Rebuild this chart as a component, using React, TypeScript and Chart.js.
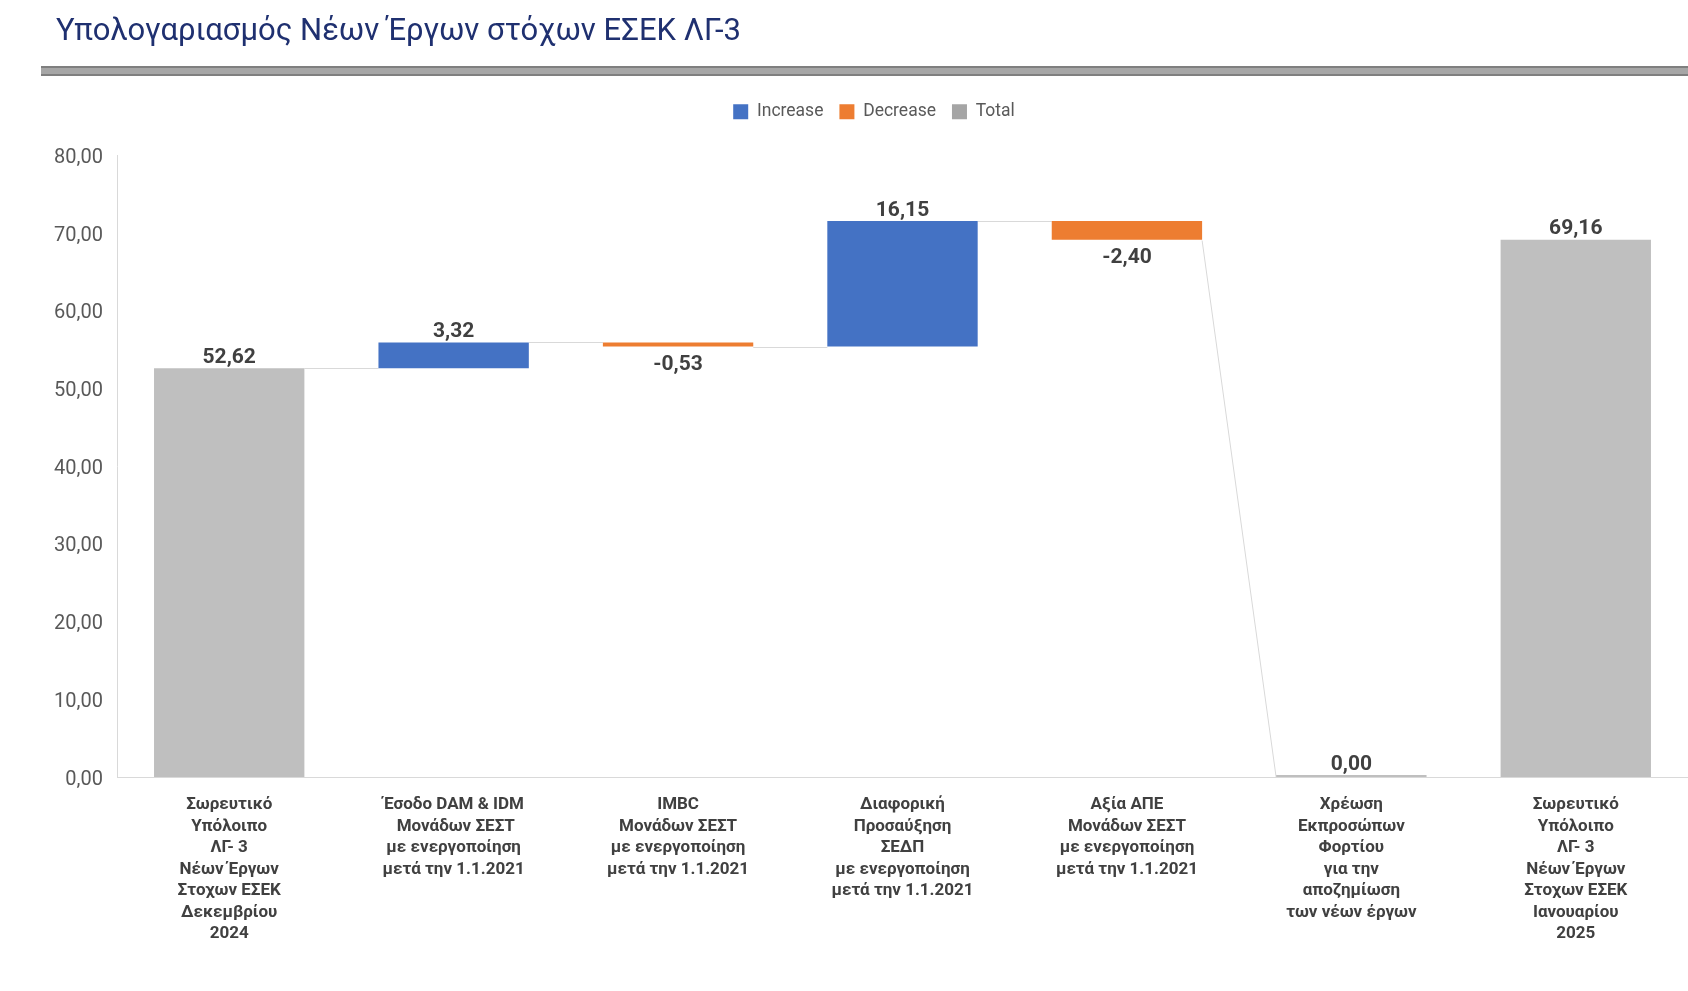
import React, { useEffect, useRef } from "react";
import { Chart, registerables } from "chart.js";

Chart.register(...registerables);

// Category captions (one entry per line of the caption)
const categoryLabels: string[][] = [
  ["Σωρευτικό", "Υπόλοιπο", "ΛΓ- 3", "Νέων Έργων", "Στοχων ΕΣΕΚ", "Δεκεμβρίου", "2024"],
  ["Έσοδο DAM & IDM", " Μονάδων ΣΕΣΤ", "με ενεργοποίηση", "μετά την 1.1.2021"],
  ["IMBC", "Μονάδων ΣΕΣΤ", "με ενεργοποίηση", "μετά την 1.1.2021"],
  ["Διαφορική", "Προσαύξηση", "ΣΕΔΠ", "με ενεργοποίηση", "μετά την 1.1.2021"],
  ["Αξία ΑΠΕ", "Μονάδων ΣΕΣΤ", "με ενεργοποίηση", "μετά την 1.1.2021"],
  ["Χρέωση", "Εκπροσώπων", "Φορτίου", "για την", "αποζημίωση", "των νέων έργων"],
  ["Σωρευτικό", "Υπόλοιπο", "ΛΓ- 3", "Νέων Έργων", "Στοχων ΕΣΕΚ", "Ιανουαρίου", "2025"],
];

// Step values of the waterfall and the kind of each step
const stepValues: number[] = [52.62, 3.32, -0.53, 16.15, -2.4, 0.0, 69.16];
const stepKinds: string[] = ["total", "increase", "decrease", "increase", "decrease", "total", "total"];

// Series
const seriesKeys: string[] = ["increase", "decrease", "total"];
const seriesNames: string[] = ["Increase", "Decrease", "Total"];
const seriesColors: string[] = ["#4472C4", "#ED7D31", "#BFBFBF"];
const legendSwatchColors: string[] = ["#4472C4", "#ED7D31", "#A5A5A5"];

// Value axis
const yMin = 0;
const yMax = 80;
const yStep = 10;

const TITLE = "Υπολογαριασμός Νέων Έργων στόχων ΕΣΕΚ ΛΓ-3";
const FONT = "Roboto, 'Open Sans', 'DejaVu Sans', sans-serif";

const fmt = (v: number) => v.toFixed(2).replace(".", ",");

// Floating [start, end] ranges built from the steps
function buildRanges(): [number, number][] {
  let cum = 0;
  return stepValues.map((v, i) => {
    if (stepKinds[i] === "total") {
      cum = v;
      return [0, v] as [number, number];
    }
    const start = cum;
    cum = +(cum + v).toFixed(2);
    return [start, cum] as [number, number];
  });
}

export default function App() {
  const canvasRef = useRef<HTMLCanvasElement | null>(null);

  useEffect(() => {
    document.body.style.margin = "0";
    document.body.style.overflow = "hidden";
    const canvas = canvasRef.current;
    if (!canvas) return;

    const ranges = buildRanges();

    const datasets = seriesKeys.map((key, s) => ({
      label: seriesNames[s],
      data: ranges.map((r, i) => (stepKinds[i] === key ? r : null)),
      backgroundColor: seriesColors[s],
      borderWidth: 0,
      grouped: false,
      categoryPercentage: 1,
      barPercentage: 0.67,
      minBarLength: key === "total" ? 2 : 0,
    }));

    const barAt = (chart: any, i: number) => {
      const s = seriesKeys.indexOf(stepKinds[i]);
      const el = chart.getDatasetMeta(s).data[i];
      return el.getProps(["x", "y", "base", "width"], true);
    };

    // Connector lines between consecutive steps
    const connectors = {
      id: "connectors",
      beforeDatasetsDraw(chart: any) {
        const { ctx } = chart;
        const yScale = chart.scales.y;
        ctx.save();
        ctx.strokeStyle = "#D9D9D9";
        ctx.lineWidth = 1;
        for (let i = 0; i < ranges.length - 1; i++) {
          const a = barAt(chart, i);
          const b = barAt(chart, i + 1);
          const yFrom = yScale.getPixelForValue(ranges[i][1]);
          const yTo = yScale.getPixelForValue(ranges[i + 1][0]);
          ctx.beginPath();
          ctx.moveTo(a.x + a.width / 2, Math.round(yFrom) + 0.5);
          ctx.lineTo(b.x - b.width / 2, Math.round(yTo) + 0.5);
          ctx.stroke();
        }
        ctx.restore();
      },
    };

    // Value labels on the bars
    const valueLabels = {
      id: "valueLabels",
      afterDatasetsDraw(chart: any) {
        const { ctx } = chart;
        ctx.save();
        ctx.font = `bold 21px ${FONT}`;
        ctx.fillStyle = "#404040";
        ctx.textAlign = "center";
        ctx.textBaseline = "middle";
        for (let i = 0; i < stepValues.length; i++) {
          const p = barAt(chart, i);
          const top = Math.min(p.y, p.base);
          const bottom = Math.max(p.y, p.base);
          const y = stepKinds[i] === "decrease" ? bottom + 18 : top - 10.5;
          ctx.fillText(fmt(stepValues[i]), p.x, y);
        }
        ctx.restore();
      },
    };

    // Legend placement above the plot
    const legendPlacement = {
      id: "legendPlacement",
      afterLayout(chart: any) {
        const lg = chart.legend;
        if (!lg) return;
        const dx = 30;
        const dy = -25;
        lg.left += dx;
        lg.right += dx;
        lg.top += dy;
        lg.bottom += dy;
      },
    };

    const chart = new Chart(canvas, {
      type: "bar",
      data: { labels: categoryLabels, datasets: datasets as any },
      options: {
        animation: false,
        responsive: false,
        devicePixelRatio: 1,
        layout: { padding: { top: 112, left: 0, right: 0, bottom: 0 } },
        plugins: {
          title: { display: false },
          tooltip: { enabled: false },
          legend: {
            display: true,
            position: "top",
            labels: {
              boxWidth: 15,
              boxHeight: 15,
              padding: 16,
              color: "#595959",
              font: { family: FONT, size: 17.5 },
              generateLabels: () =>
                seriesNames.map((name, i) => ({
                  text: name,
                  fillStyle: legendSwatchColors[i],
                  strokeStyle: legendSwatchColors[i],
                  lineWidth: 0,
                  hidden: false,
                  datasetIndex: i,
                  fontColor: "#595959",
                })),
            },
          },
        },
        scales: {
          x: {
            grid: { display: false, drawTicks: false },
            border: { display: true, color: "#D9D9D9", width: 1 },
            ticks: {
              autoSkip: false,
              maxRotation: 0,
              minRotation: 0,
              padding: 17,
              color: "#404040",
              font: { family: FONT, size: 17, weight: "bold", lineHeight: "21.5px" } as any,
            },
            afterFit(scale: any) {
              scale.height = 214;
            },
          },
          y: {
            min: yMin,
            max: yMax,
            grid: { display: false, drawTicks: false },
            border: { display: true, color: "#D9D9D9", width: 1 },
            ticks: {
              stepSize: yStep,
              padding: 14,
              labelOffset: 2.5,
              color: "#595959",
              font: { family: FONT, size: 20 },
              callback: (v: any) => fmt(Number(v)),
            },
            afterFit(scale: any) {
              scale.width = 117;
            },
          },
        },
      },
      plugins: [connectors, valueLabels, legendPlacement],
    });

    return () => chart.destroy();
  }, []);

  return (
    <div style={{ position: "relative", width: 1688, height: 991, background: "#FFFFFF", overflow: "hidden" }}>
      <canvas ref={canvasRef} width={1688} height={991} style={{ position: "absolute", left: 0, top: 0 }} />
      <div
        style={{
          position: "absolute",
          left: 56,
          top: 10,
          fontFamily: FONT,
          fontSize: 31,
          lineHeight: "40px",
          color: "#1F3070",
          whiteSpace: "nowrap",
        }}
      >
        {TITLE}
      </div>
      <div
        style={{
          position: "absolute",
          left: 41,
          right: 0,
          top: 66,
          height: 6,
          background: "#A6A6A6",
          borderTop: "2px solid #7F7F7F",
          borderBottom: "2px solid #7F7F7F",
        }}
      />
    </div>
  );
}
